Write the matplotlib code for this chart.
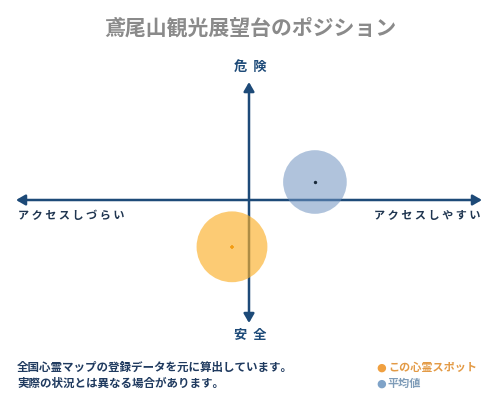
import matplotlib
matplotlib.use("Agg")
import matplotlib.pyplot as plt
from matplotlib.patches import FancyArrowPatch

plt.rcParams['font.family'] = ['Noto Sans CJK JP', 'DejaVu Sans']

# ---- data ----
title = "鳶尾山観光展望台のポジション"
label_top = "危  険"
label_bottom = "安  全"
label_left = "ア ク セ ス し づ ら い"
label_right = "ア ク セ ス し や す い"
note_lines = ["全国心霊マップの登録データを元に算出しています。",
              "実際の状況とは異なる場合があります。"]
series_names = ["この心霊スポット", "平均値"]
access_x = [-0.073, 0.283]   # this spot, average
danger_y = [-0.39, 0.15]

# ---- style ----
navy = '#1d4a78'
fill_colors = ['#fbb02a', '#6f93c0']
fill_alpha = [0.65, 0.55]
bubble_sizes = [2600, 2100]
center_markers = ['+', '.']
center_colors = ['#f39c12', '#1a2a3a']
legend_dot_colors = ['#f0a040', '#7fa3c8']
legend_text_colors = ['#e39a45', '#7f9cb8']

fig = plt.figure(figsize=(5, 4), dpi=100)
fig.patch.set_facecolor('white')

ax = fig.add_axes([16/500, 80/400, 466/500, 240/400])
ax.set_xlim(-1, 1)
ax.set_ylim(-1, 1)
ax.axis('off')

# axes arrows
style = '<|-|>,head_length=4.5,head_width=2.6'
ax.add_patch(FancyArrowPatch((-1.0, 0), (1.0, 0), arrowstyle=style,
                             color=navy, lw=1.8, mutation_scale=1.2, clip_on=False,
                             shrinkA=0, shrinkB=0, zorder=1))
ax.add_patch(FancyArrowPatch((0, -1.025), (0, 0.983), arrowstyle=style,
                             color=navy, lw=1.8, mutation_scale=1.2, clip_on=False,
                             shrinkA=0, shrinkB=0, zorder=1))

for i in range(len(access_x)):
    ax.scatter([access_x[i]], [danger_y[i]], s=bubble_sizes[i], color=fill_colors[i],
               alpha=fill_alpha[i], edgecolors='none', zorder=3, clip_on=False)
    ax.scatter([access_x[i]], [danger_y[i]], s=12 if i == 0 else 6, marker=center_markers[i],
               color=center_colors[i], linewidths=1.2, zorder=4)

# texts
fig.text(0.5, 1 - 28/400, title, ha='center', va='center', fontsize=15,
         fontweight='bold', color='#8a8a8a')
fig.text(250/500, 1 - 67/400, label_top, ha='center', va='center', fontsize=9.5,
         fontweight='bold', color=navy)
fig.text(250/500, 1 - 335/400, label_bottom, ha='center', va='center', fontsize=9.5,
         fontweight='bold', color=navy)
fig.text(18/500, 1 - 216/400, label_left, ha='left', va='center', fontsize=8,
         fontweight='bold', color='#1f3550')
fig.text(481/500, 1 - 216/400, label_right, ha='right', va='center', fontsize=8,
         fontweight='bold', color='#1f3550')

for j, line in enumerate(note_lines):
    fig.text(17/500, 1 - (367 + 16*j)/400, line, ha='left', va='center', fontsize=8.3,
             fontweight='bold', color='#1f3a5f')

for j, name in enumerate(series_names):
    yy = 1 - (367.5 + 16*j)/400
    fig.text(381/500, yy, '●', ha='center', va='center', fontsize=8,
             color=legend_dot_colors[j], family=['DejaVu Sans'])
    fig.text(388/500, yy, name, ha='left', va='center', fontsize=8,
             fontweight='bold', color=legend_text_colors[j])

fig.savefig('out.png', dpi=100, facecolor='white')
